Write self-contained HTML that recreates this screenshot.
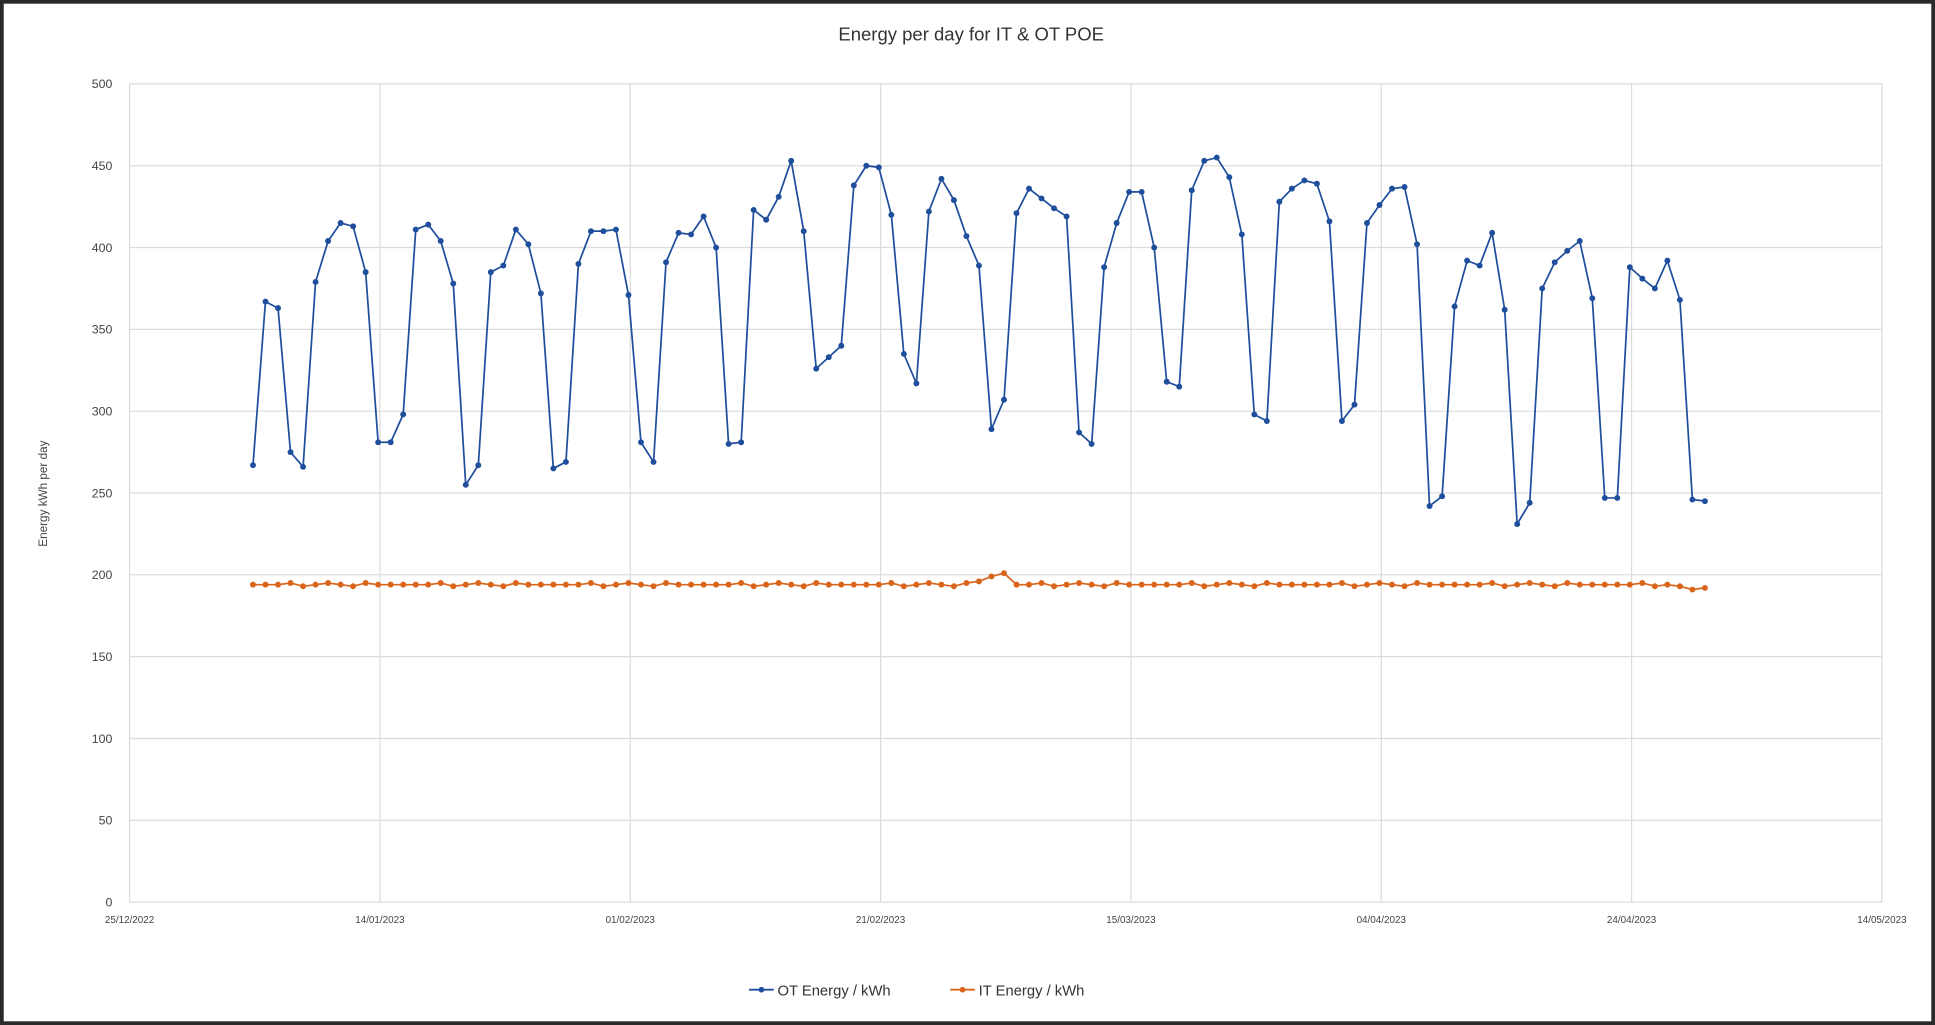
<!DOCTYPE html>
<html><head><meta charset="utf-8"><style>
html,body{margin:0;padding:0;background:#fff;}
svg{display:block;}
text{font-family:"Liberation Sans",sans-serif;}
</style></head><body>
<svg id="s" width="1935" height="1025" viewBox="0 0 1568 830.6" xmlns="http://www.w3.org/2000/svg">
<rect x="0" y="0" width="1568" height="830.6" fill="#fff"/>
<rect x="1.5" y="1.5" width="1565" height="827.6" fill="none" stroke="#2a2a2a" stroke-width="3"/>
<text x="787" y="33" font-size="15" text-anchor="middle" fill="#333">Energy per day for IT &amp; OT POE</text>
<g id="grid"></g>
<text transform="translate(38,400) rotate(-90)" font-size="9.5" text-anchor="middle" fill="#444">Energy kWh per day</text>
<g id="series"></g>
<g font-size="12" fill="#333">
<line x1="607" y1="802" x2="627" y2="802" stroke="#1f4e9c" stroke-width="1.5"/><circle cx="617" cy="802" r="2.3" fill="#1f4e9c"/>
<text x="630" y="806.5">OT Energy / kWh</text>
<line x1="770" y1="802" x2="790" y2="802" stroke="#d9651b" stroke-width="1.5"/><circle cx="780" cy="802" r="2.3" fill="#d9651b"/>
<text x="793" y="806.5">IT Energy / kWh</text>
</g>
</svg>
<script>
var NS="http://www.w3.org/2000/svg";
function el(p,t,a,txt){var e=document.createElementNS(NS,t);for(var k in a)e.setAttribute(k,a[k]);if(txt!==undefined)e.textContent=txt;p.appendChild(e);return e;}
var g=document.getElementById('grid'),s=document.getElementById('series');
var x0=105,x1=1525,y0=731,y5=68;
function Y(v){return y0-(y0-y5)*v/500;}
for(var v=0;v<=500;v+=50){var y=Y(v);el(g,'line',{x1:x0,x2:x1,y1:y,y2:y,stroke:'#dcdcdc','stroke-width':1});
el(g,'text',{x:91,y:y+3.5,'font-size':10,'text-anchor':'end',fill:'#444'},String(v));}
var dl=['25/12/2022','14/01/2023','01/02/2023','21/02/2023','15/03/2023','04/04/2023','24/04/2023','14/05/2023'];
for(var i=0;i<8;i++){var x=x0+(x1-x0)*i/7;el(g,'line',{x1:x,x2:x,y1:Y(500),y2:y0,stroke:'#dcdcdc','stroke-width':1});
el(g,'text',{x:x,y:748,'font-size':8,'text-anchor':'middle',fill:'#444'},dl[i]);}
var ot=[267,367,363,275,266,379,404,415,413,385,281,281,298,411,414,404,378,255,267,385,389,411,402,372,265,269,390,410,410,411,371,281,269,391,409,408,419,400,280,281,423,417,431,453,410,326,333,340,438,450,449,420,335,317,422,442,429,407,389,289,307,421,436,430,424,419,287,280,388,415,434,434,400,318,315,435,453,455,443,408,298,294,428,436,441,439,416,294,304,415,426,436,437,402,242,248,364,392,389,409,362,231,244,375,391,398,404,369,247,247,388,381,375,392,368,246,245];
var it=[];for(var i=0;i<117;i++){var b=194+((i*7)%3===0?1:0)-((i*5)%4===0?1:0);it.push(b);}
it[59]=199;it[60]=201;it[58]=196;it[114]=193;it[115]=191;it[116]=192;
var dx=(x1-x0)/140;
function draw(d,c){var p=[];for(var i=0;i<d.length;i++)p.push((205+i*dx).toFixed(1)+','+Y(d[i]).toFixed(1));
el(s,'polyline',{points:p.join(' '),fill:'none',stroke:c,'stroke-width':1.4});
for(var i=0;i<d.length;i++)el(s,'circle',{cx:205+i*dx,cy:Y(d[i]),r:2.4,fill:c});}
draw(it,'#d9651b');draw(ot,'#1f4e9c');
</script>
</body></html>
